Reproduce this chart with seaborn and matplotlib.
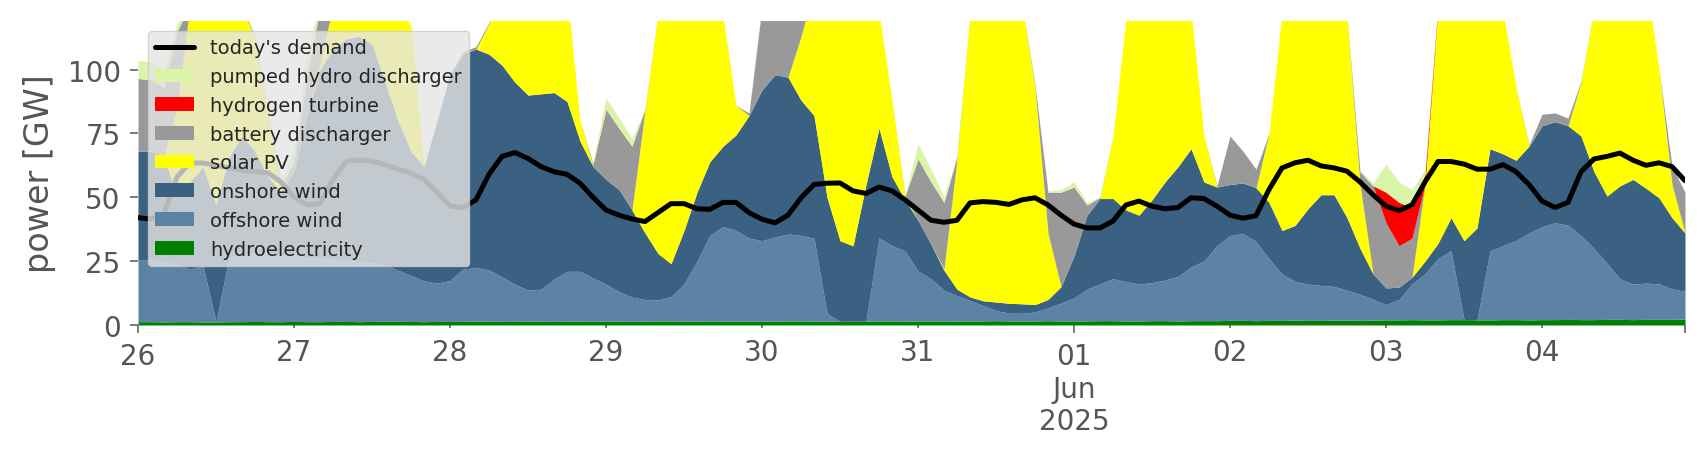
import numpy as np
import pandas as pd
import matplotlib
matplotlib.use("Agg")
import matplotlib.pyplot as plt
import matplotlib.dates as mdates
import seaborn as sns

# 2-hourly values, 26 May 00:00 .. 4 Jun 22:00, GW
hydro = [1.3, 1.3, 1.2, 1.3, 1.3, 1.2, 1.2, 1.3, 1.3, 1.4, 1.3, 1.3,
         1.4, 1.3, 1.3, 1.4, 1.4, 1.3, 1.4, 1.5, 1.4, 1.4, 1.3, 1.4,
         1.4, 1.4, 1.5, 1.5, 1.4, 1.4, 1.5, 1.5, 1.4, 1.5, 1.5, 1.4,
         1.5, 1.5, 1.4, 1.5, 1.6, 1.6, 1.5, 1.5, 1.6, 1.5, 1.5, 1.5,
         1.5, 1.5, 1.6, 1.6, 1.5, 1.5, 1.4, 1.5, 1.5, 1.6, 1.6, 1.5,
         1.6, 1.6, 1.6, 1.5, 1.6, 1.6, 1.7, 1.6, 1.6, 1.6, 1.7, 1.6,
         1.6, 1.6, 1.7, 1.7, 1.6, 1.6, 1.7, 1.7, 1.6, 1.7, 1.7, 1.7,
         1.8, 1.8, 1.7, 1.8, 1.8, 1.9, 1.8, 1.8, 1.9, 1.9, 1.8, 1.9,
         2.0, 2.0, 2.1, 2.0, 2.0, 2.1, 2.1, 2.0, 2.0, 2.1, 2.1, 2.0,
         2.1, 2.1, 2.2, 2.1, 2.1, 2.2, 2.2, 2.1, 2.2, 2.2, 2.2, 2.3]

offshore = [24, 24.5, 23.5, 22.5, 20.5, 22, 0, 25, 26, 27, 27, 26,
            26, 25, 25, 24.5, 24, 23.5, 23, 22, 20, 18, 16, 15,
            16, 20.5, 21, 20, 17.5, 14.5, 12.2, 12.5, 16.5, 19.5, 19.5, 17,
            14.5, 11.5, 9.5, 8.5, 8.2, 9.5, 14.5, 23.5, 33.5, 37, 35.5, 32.5,
            31.5, 33, 34, 33.5, 32.5, 3, 0, 0, 0, 32.5, 29.5, 27.5,
            19.5, 16.5, 12, 10, 8, 6, 4, 3, 3, 3.5, 5, 7,
            9, 12.4, 14.4, 16.4, 15.4, 14.4, 14.9, 15.9, 17.4, 21, 23.4, 29.4,
            33.2, 34, 30.9, 24.2, 18.2, 15.2, 14.2, 13.7, 13.2, 11.7, 10.2, 8.2,
            6, 8, 14, 18, 24, 27, 0, 0, 27, 29, 31, 34,
            36.4, 37.9, 36.9, 32.9, 27.9, 21.9, 15.9, 13.9, 14.2, 13.9, 11.9, 10.9]

onshore = [42.7, 42.2, 41.3, 26.2, 34.2, 38.8, 45.8, 39.7, 46.7, 39.6, 29.7, 24.7,
           32.6, 55.7, 73.7, 82.1, 86.6, 88.2, 85.6, 71.5, 58.6, 48.6, 44.7, 63.6,
           80.6, 84.1, 85.5, 84.5, 82.8, 79.1, 76.3, 76.5, 73.1, 66.5, 51, 43.6,
           41, 40, 34.1, 26, 18.2, 12.9, 21, 27, 28.9, 31.5, 37.4, 48,
           59, 63.5, 61.4, 52.9, 48, 45.5, 31.6, 29.5, 53.5, 42.9, 26.9, 20,
           19.9, 13.5, 7.8, 2.5, 1.4, 1.9, 3.3, 3.9, 3.7, 2.9, 3.3, 6.4,
           16.4, 29, 33.4, 31.4, 28, 27, 32.4, 38.4, 43, 46.3, 30.9, 22.9,
           20, 19.8, 21.1, 22, 17, 21.9, 29.5, 35.5, 35.9, 28.4, 18, 9.9,
           6.5, 4.8, 2.6, 5, 6, 12.9, 30.9, 36, 40, 35.9, 31.4, 34,
           39.5, 39.6, 38.9, 39, 30, 26.4, 36.4, 41, 37.1, 33.7, 27.9, 22.8]

solar = [0, 0, 0, 35, 69, 68, 81, 62, 51, 44, 24, 0.5,
         0, 0, 2, 17, 23, 27, 28, 37, 46, 49, 0, 0,
         0, 0, 0, 12, 33.3, 45, 52, 51.5, 47, 42.5, 8, 0,
         0, 0, 0, 48, 94, 111, 103, 90, 74, 51, 11.6, 0,
         0, 0, 0, 25, 50, 88, 109, 111, 85, 45, 30, 1,
         0, 0, 0.6, 51, 111, 128.5, 133, 133.5, 117.7, 85, 26, 0,
         0, 0, 0, 24.5, 75, 92, 91, 86, 74, 54, 18, 0,
         0, 0, 0, 27, 85, 97, 96.5, 91, 85, 79, 25, 0,
         0, 0, 0, 30, 92, 94, 109, 104, 73, 56, 28.5, 0,
         0, 0, 0, 21, 64, 85.5, 87.5, 85, 81.5, 50.2, 13, 0]

battery = [28.5, 28, 27, 30, 0, 0, 0, 0, 0, 1, 1, 1.5,
           4, 16, 22, 0, 0, 0, 0, 0, 0, 0, 0, 0,
           0.5, 1, 1, 0.5, 0, 0, 0, 0, 0, 0, 0, 1,
           27.5, 24, 25, 0.5, 0, 0, 0, 0, 0, 0, 0, 1,
           33, 34, 33, 11, 0, 0, 0, 0, 0, 0, 0, 0.5,
           24, 24.4, 26, 1, 0, 0, 0, 0, 0, 1, 16, 37,
           27, 4, 0.5, 0, 0, 0, 0, 0, 0, 0, 0, 0.5,
           19, 12.4, 7.3, 0, 0, 0, 0, 0, 0, 0, 5, 34.5,
           25.5, 16.2, 15.3, 0, 0, 0, 0, 0, 0, 0, 0, 0.5,
           4.5, 3.4, 3, 0.5, 0, 0, 0, 0, 0, 0, 7, 16]

hydrogen = [0] * 96 + [12, 17, 12, 4, 1] + [0] * 19

pumped = [7, 7, 7, 3, 0, 0, 0, 0, 0, 0.5, 1, 2,
          4, 8, 3, 0, 0, 0, 0, 0, 0, 0, 0, 0,
          0, 0, 0, 0, 0, 0, 0, 0, 0, 0, 0, 0.5,
          4.5, 4, 3, 0.5, 0, 0, 0, 0, 0, 0, 0, 0,
          1, 1, 1, 1, 0, 0, 0, 0, 0, 0, 0, 0.5,
          6, 5, 2, 0.5, 0, 0, 0, 0, 0, 0, 0.5, 1,
          2, 1, 0.2, 0, 0, 0, 0, 0, 0, 0, 0, 0,
          0, 0, 0, 0, 0, 0, 0, 0, 0, 0, 0.5, 1,
          11, 8, 7, 2, 0.3, 0, 0, 0, 0, 0, 0, 0,
          0, 0, 0, 0, 0, 0, 0, 0, 0, 0, 0, 0]

demand = [42, 41.5, 43.5, 58, 63.4, 63.4, 62.5, 61.5, 60.5, 60, 59.6, 56,
          50, 47, 47.5, 57, 64, 64.7, 64.2, 62.8, 61, 59.5, 57, 52,
          46.6, 46, 49, 59, 66, 67.5, 65.2, 62, 60, 59, 55.5, 50,
          45, 43, 41.5, 40.5, 44, 47.5, 47.5, 45.5, 45.3, 48, 48, 44,
          41.4, 40, 43, 49.8, 55, 55.5, 55.6, 52.5, 51.5, 54, 52.5, 49,
          45, 41, 40.2, 41, 47.8, 48.3, 48, 47.2, 49, 49.8, 47, 43,
          39.5, 38, 38, 40.7, 47, 48.5, 46.5, 45.5, 46, 49.8, 49.5, 46.5,
          43, 41.8, 42.8, 53, 61.5, 63.5, 64.5, 62.3, 61.5, 60.2, 56, 51,
          46.5, 44.8, 47, 56, 64, 64, 63, 61, 61, 62.8, 60, 55,
          48.5, 46, 48, 60, 65, 66, 67.3, 64.5, 62.5, 63.5, 62, 56.5]

carriers = ["hydroelectricity", "offshore wind", "onshore wind", "solar PV",
            "battery discharger", "hydrogen turbine", "pumped hydro discharger"]
colors = ["#008000", "#5c83a5", "#3b6182", "#ffff00",
          "#999999", "#ff0000", "#daf5a8"]

times = pd.date_range("2025-05-26", periods=len(demand), freq="2h")

grey = "#555555"
sns.set_theme(style="ticks", rc={
    "axes.facecolor": "white",
    "xtick.color": grey, "ytick.color": grey,
    "axes.labelcolor": grey,
    "xtick.major.size": 5.5, "xtick.minor.size": 2.5,
    "ytick.major.size": 5.5,
    "xtick.major.width": 1.1, "xtick.minor.width": 1.1,
    "ytick.major.width": 1.1,
    "xtick.major.pad": 7, "xtick.minor.pad": 7, "ytick.major.pad": 7,
})
plt.rcParams["font.family"] = ["DejaVu Sans"]

fig = plt.figure(figsize=(17.06, 4.6), dpi=100)
ax = fig.add_axes([138 / 1706, 134 / 460, 1547 / 1706, 304 / 460])

ax.stackplot(times, hydro, offshore, onshore, solar, battery, hydrogen, pumped,
             colors=colors, labels=carriers, linewidth=0)
sns.lineplot(x=times, y=demand, color="black", linewidth=3.6, ax=ax,
             label="today's demand")

ax.set_xlim(times[0], times[-1])
ax.set_ylim(0, 119)
ax.set_yticks([0, 25, 50, 75, 100])
ax.tick_params(axis="both", labelsize=20)
ax.set_ylabel("power [GW]", fontsize=24, labelpad=8)
ax.set_xlabel("")

major = [pd.Timestamp("2025-05-26"), pd.Timestamp("2025-06-01"), times[-1]]
ax.set_xticks(mdates.date2num(major), labels=["26", "01\nJun\n2025", ""])
minor_days = pd.to_datetime(["2025-05-27", "2025-05-28", "2025-05-29", "2025-05-30",
                             "2025-05-31", "2025-06-02", "2025-06-03", "2025-06-04"])
ax.set_xticks(mdates.date2num(minor_days), minor=True)
ax.set_xticklabels(minor_days.strftime("%d"), minor=True)
ax.tick_params(axis="x", which="minor", labelsize=20)

for s in ax.spines.values():
    s.set_visible(False)

handles, labels = ax.get_legend_handles_labels()
order = [labels.index("today's demand")] + [labels.index(c) for c in carriers[::-1]]
ax.legend([handles[i] for i in order], [labels[i] for i in order],
          loc="upper left", fontsize=14, labelspacing=0.5,
          frameon=True, facecolor="#e5e5e5", edgecolor="#cccccc", framealpha=0.8)

fig.savefig("out.png", dpi=100)
